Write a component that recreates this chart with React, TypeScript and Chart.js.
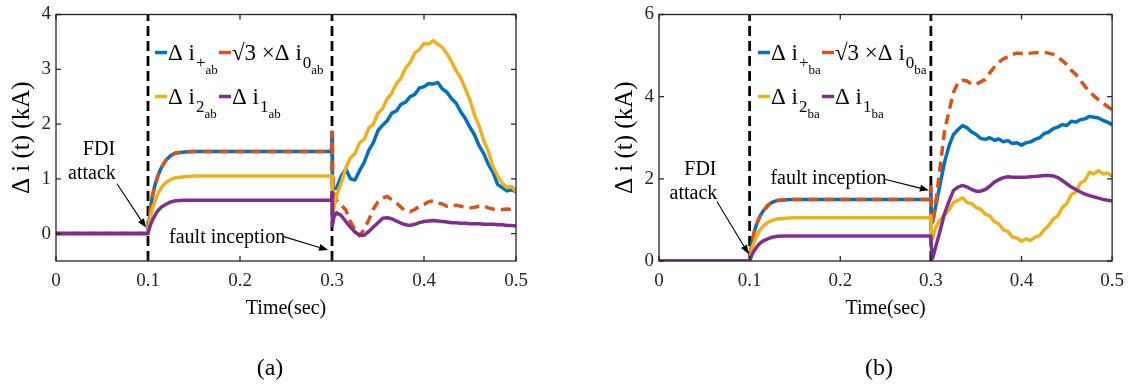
import React, { useEffect, useRef } from 'react';
import { Chart, registerables } from 'chart.js';

Chart.register(...registerables);

// ---------------- data ----------------
const time = [
  0, 0.1, 0.1025, 0.105, 0.1075, 0.11, 0.1125, 0.115, 0.12, 0.125,
  0.13, 0.14, 0.15, 0.175, 0.2, 0.225, 0.25, 0.275, 0.299, 0.2995,
  0.3, 0.3005, 0.302,
  0.305, 0.31, 0.315, 0.32, 0.325, 0.33, 0.335, 0.34, 0.345, 0.35,
  0.355, 0.36, 0.365, 0.37, 0.375, 0.38, 0.385, 0.39, 0.395, 0.4,
  0.405, 0.41, 0.415, 0.42, 0.425, 0.43, 0.435, 0.44, 0.445, 0.45,
  0.455, 0.46, 0.465, 0.47, 0.475, 0.48, 0.485, 0.49, 0.495, 0.5,
];

const xTicks = [0, 0.1, 0.2, 0.3, 0.4, 0.5];
const yTicksA = [0, 1, 2, 3, 4];
const yTicksB = [0, 2, 4, 6];
const eventTimes = [0.1, 0.3];

// panel (a): Δi_+ab, √3×Δi_0ab, Δi_2ab, Δi_1ab
const posA = [
  0, 0, 0.45, 0.7, 0.88, 1.02, 1.13, 1.22, 1.35, 1.43,
  1.47, 1.49, 1.5, 1.5, 1.5, 1.5, 1.5, 1.5, 1.5, 1.52,
  1.85, 0.8, 0.82,
  0.83, 1.05, 1.18, 1.0, 0.98, 1.15, 1.3, 1.52, 1.66, 1.88,
  1.98, 2.06, 2.2, 2.24, 2.36, 2.4, 2.5, 2.54, 2.66, 2.68,
  2.74, 2.73, 2.76, 2.64, 2.58, 2.46, 2.38, 2.22, 2.1, 1.94,
  1.8, 1.6, 1.46, 1.26, 1.12, 0.9, 0.84, 0.78, 0.8, 0.76,
];
const zeroA = [
  0, 0, 0.45, 0.7, 0.88, 1.02, 1.13, 1.22, 1.35, 1.43,
  1.47, 1.49, 1.5, 1.5, 1.5, 1.5, 1.5, 1.5, 1.5, 1.52,
  1.85, 1.2, 0.75,
  0.6, 0.52, 0.43, 0.22, 0.08, -0.04, 0.08, 0.25, 0.45, 0.58,
  0.65, 0.68, 0.62, 0.56, 0.48, 0.42, 0.4, 0.44, 0.5, 0.53,
  0.58, 0.6, 0.56, 0.54, 0.5, 0.5, 0.52, 0.5, 0.48, 0.47,
  0.48, 0.5, 0.5, 0.47, 0.45, 0.44, 0.44, 0.45, 0.44, 0.43,
];
const negA = [
  0, 0, 0.3, 0.46, 0.58, 0.7, 0.78, 0.85, 0.94, 0.99,
  1.02, 1.04, 1.05, 1.05, 1.05, 1.05, 1.05, 1.05, 1.05, 1.05,
  1.05, 0.3, 0.45,
  0.7, 0.92, 1.2, 1.38, 1.46, 1.66, 1.72, 1.93, 2.0, 2.2,
  2.28, 2.46, 2.56, 2.74, 2.84, 3.02, 3.12, 3.3, 3.36, 3.47,
  3.46, 3.52, 3.46, 3.4, 3.28, 3.14, 2.97, 2.84, 2.64, 2.44,
  2.16, 1.96, 1.7, 1.5, 1.22, 1.06, 0.92, 0.84, 0.86, 0.77,
];
const oneA = [
  0, 0, 0.15, 0.25, 0.33, 0.4, 0.45, 0.49, 0.54, 0.58,
  0.6, 0.61, 0.61, 0.61, 0.61, 0.61, 0.61, 0.61, 0.61, 0.62,
  0.75, 0.15, 0.3,
  0.38, 0.33, 0.22, 0.12, 0.03, -0.03, -0.03, 0.04, 0.12, 0.2,
  0.28, 0.29, 0.27, 0.23, 0.19, 0.16, 0.15, 0.17, 0.2, 0.22,
  0.23, 0.24, 0.23, 0.22, 0.21, 0.2, 0.2, 0.19, 0.19, 0.18,
  0.18, 0.18, 0.17, 0.17, 0.17, 0.16, 0.16, 0.15, 0.15, 0.14,
];

// panel (b): Δi_+ba, √3×Δi_0ba, Δi_2ba, Δi_1ba
const posB = [
  0, 0, 0.45, 0.7, 0.88, 1.02, 1.13, 1.22, 1.35, 1.43,
  1.47, 1.49, 1.5, 1.5, 1.5, 1.5, 1.5, 1.5, 1.5, 1.52,
  1.8, 1.0, 0.95,
  1.3, 1.85, 2.4, 2.8, 3.08, 3.2, 3.3, 3.24, 3.14, 3.08,
  2.98, 2.96, 3.0, 2.94, 2.97, 2.9, 2.93, 2.86, 2.88, 2.82,
  2.88, 2.9, 2.96, 3.0, 3.1, 3.14, 3.22, 3.26, 3.32, 3.3,
  3.4, 3.38, 3.44, 3.46, 3.52, 3.5, 3.48, 3.42, 3.38, 3.32,
];
const zeroB = [
  0, 0, 0.45, 0.7, 0.88, 1.02, 1.13, 1.22, 1.35, 1.43,
  1.47, 1.49, 1.5, 1.5, 1.5, 1.5, 1.5, 1.5, 1.5, 1.52,
  1.8, 1.1, 0.9,
  1.35, 2.25, 3.15, 3.65, 4.1, 4.35, 4.4, 4.38, 4.3, 4.3,
  4.36, 4.42, 4.58, 4.72, 4.84, 4.92, 4.97, 5.03, 5.06, 5.05,
  5.04, 5.06, 5.07, 5.08, 5.08, 5.06, 5.03, 4.96, 4.88, 4.78,
  4.64, 4.54, 4.4, 4.25, 4.12, 4.02, 3.92, 3.84, 3.76, 3.68,
];
const negB = [
  0, 0, 0.3, 0.46, 0.58, 0.7, 0.78, 0.85, 0.94, 0.99,
  1.02, 1.04, 1.05, 1.05, 1.05, 1.05, 1.05, 1.05, 1.05, 1.05,
  1.1, 0.5, 0.55,
  0.8, 1.0, 1.12, 1.24, 1.42, 1.48, 1.54, 1.42, 1.4, 1.3,
  1.26, 1.14, 1.1, 0.96, 0.9, 0.76, 0.72, 0.58, 0.56, 0.48,
  0.54, 0.5, 0.58, 0.62, 0.76, 0.86, 1.02, 1.1, 1.3, 1.4,
  1.62, 1.68, 1.9, 1.96, 2.16, 2.12, 2.2, 2.12, 2.14, 2.06,
];
const oneB = [
  0, 0, 0.15, 0.25, 0.33, 0.4, 0.45, 0.49, 0.54, 0.58,
  0.6, 0.61, 0.61, 0.61, 0.61, 0.61, 0.61, 0.61, 0.61, 0.61,
  0.6, 0.35, 0.07,
  0.32, 0.72, 1.15, 1.45, 1.72, 1.8, 1.84, 1.8, 1.74, 1.7,
  1.7, 1.74, 1.82, 1.92, 1.98, 2.03, 2.05, 2.04, 2.04, 2.04,
  2.04, 2.05, 2.06, 2.07, 2.08, 2.08, 2.07, 2.03, 1.96, 1.88,
  1.8, 1.74, 1.68, 1.63, 1.59, 1.56, 1.53, 1.5, 1.48, 1.46,
];

// ---------------- styling / layout ----------------
const FONT = '"Liberation Serif", "Times New Roman", serif';
const AXIS = '#262626';
const COLORS = { pos: '#0072BD', zero: '#D95319', neg: '#EDB120', one: '#7E2F8E' };

type Pt = [number, number];
type Panel = {
  series: { pos: number[]; zero: number[]; neg: number[]; one: number[] };
  yMin: number; yMax: number; yTicks: number[]; sub: string; letter: string;
  canvasLeft: number; canvasWidth: number; axisWidth: number; padRight: number;
  fdiText: Pt; attackText: Pt; fdiFrom: Pt; fdiTo: Pt;
  faultText: Pt; faultFrom: Pt; faultTo: Pt;
  letterOffset: number;
};

const panelA: Panel = {
  series: { pos: posA, zero: zeroA, neg: negA, one: oneA },
  yMin: -0.5, yMax: 4, yTicks: yTicksA, sub: 'ab', letter: '(a)',
  canvasLeft: 0, canvasWidth: 560, axisWidth: 56, padRight: 44,
  fdiText: [0.0467, 1.54], attackText: [0.0391, 1.09], fdiFrom: [0.0663, 0.91], fdiTo: [0.0978, 0.11],
  faultText: [0.186, -0.07], faultFrom: [0.2467, -0.05], faultTo: [0.2957, -0.3],
  letterOffset: 214,
};
const panelB: Panel = {
  series: { pos: posB, zero: zeroB, neg: negB, one: oneB },
  yMin: 0, yMax: 6, yTicks: yTicksB, sub: 'ba', letter: '(b)',
  canvasLeft: 590, canvasWidth: 545, axisWidth: 69, padRight: 16,
  fdiText: [0.0457, 2.23], attackText: [0.038, 1.63], fdiFrom: [0.0641, 1.44], fdiTo: [0.0989, 0.17],
  faultText: [0.187, 1.99], faultFrom: [0.249, 1.99], faultTo: [0.2978, 1.72],
  letterOffset: 220,
};

function arrow(ctx: CanvasRenderingContext2D, x1: number, y1: number, x2: number, y2: number) {
  const ang = Math.atan2(y2 - y1, x2 - x1);
  const hl = 9, hw = 3.5;
  const bx = x2 - hl * Math.cos(ang), by = y2 - hl * Math.sin(ang);
  ctx.strokeStyle = '#000';
  ctx.fillStyle = '#000';
  ctx.lineWidth = 1.1;
  ctx.setLineDash([]);
  ctx.beginPath();
  ctx.moveTo(x1, y1);
  ctx.lineTo(bx, by);
  ctx.stroke();
  ctx.beginPath();
  ctx.moveTo(x2, y2);
  ctx.lineTo(bx - hw * Math.sin(ang), by + hw * Math.cos(ang));
  ctx.lineTo(bx + hw * Math.sin(ang), by - hw * Math.cos(ang));
  ctx.closePath();
  ctx.fill();
}

function legendEntry(ctx: CanvasRenderingContext2D, x: number, y: number, color: string, main: string, sub: string, subsub: string) {
  ctx.setLineDash([]);
  ctx.strokeStyle = color;
  ctx.lineWidth = 3.5;
  ctx.beginPath();
  ctx.moveTo(x, y);
  ctx.lineTo(x + 12, y);
  ctx.stroke();
  ctx.fillStyle = '#000';
  ctx.textAlign = 'left';
  ctx.textBaseline = 'alphabetic';
  let cx = x + 13;
  ctx.font = `23px ${FONT}`;
  ctx.fillText(main, cx, y + 7.5);
  cx += ctx.measureText(main).width + 1;
  ctx.font = `17px ${FONT}`;
  ctx.fillText(sub, cx, y + 15);
  cx += ctx.measureText(sub).width;
  ctx.font = `13px ${FONT}`;
  ctx.fillText(subsub, cx, y + 21);
}

function makeDecor(p: Panel) {
  return {
    id: 'decor' + p.letter,
    afterDraw(chart: any) {
      const { ctx, chartArea: a, scales } = chart;
      const x = scales.x, y = scales.y;
      ctx.save();
      // axes box + inward ticks
      ctx.strokeStyle = AXIS;
      ctx.lineWidth = 1.3;
      ctx.setLineDash([]);
      ctx.strokeRect(a.left, a.top, a.right - a.left, a.bottom - a.top);
      ctx.beginPath();
      for (const v of xTicks) {
        const px = x.getPixelForValue(v);
        ctx.moveTo(px, a.bottom); ctx.lineTo(px, a.bottom - 5);
        ctx.moveTo(px, a.top); ctx.lineTo(px, a.top + 5);
      }
      for (const v of p.yTicks) {
        const py = y.getPixelForValue(v);
        ctx.moveTo(a.left, py); ctx.lineTo(a.left + 5, py);
        ctx.moveTo(a.right, py); ctx.lineTo(a.right - 5, py);
      }
      ctx.stroke();

      // axis titles
      ctx.fillStyle = '#000';
      ctx.textAlign = 'center';
      ctx.textBaseline = 'middle';
      ctx.font = `20px ${FONT}`;
      ctx.fillText('Time(sec)', (a.left + a.right) / 2, 309);
      ctx.save();
      ctx.translate(a.left - 34, (a.top + a.bottom) / 2);
      ctx.rotate(-Math.PI / 2);
      ctx.font = `25px ${FONT}`;
      ctx.fillText('Δ i (t) (kA)', 0, 0);
      ctx.restore();
      ctx.font = `24px ${FONT}`;
      ctx.fillText(p.letter, a.left + p.letterOffset, 369);

      // annotations
      const P = (pt: Pt) => [x.getPixelForValue(pt[0]), y.getPixelForValue(pt[1])];
      ctx.font = `20px ${FONT}`;
      ctx.fillStyle = '#000';
      let q = P(p.fdiText); ctx.fillText('FDI', q[0], q[1]);
      q = P(p.attackText); ctx.fillText('attack', q[0], q[1]);
      q = P(p.faultText); ctx.fillText('fault inception', q[0], q[1]);
      let f = P(p.fdiFrom), t = P(p.fdiTo);
      arrow(ctx, f[0], f[1], t[0], t[1]);
      f = P(p.faultFrom); t = P(p.faultTo);
      arrow(ctx, f[0], f[1], t[0], t[1]);

      // legend
      const lx1 = a.left + 99, lx2 = a.left + 163;
      const ly1 = a.top + 38, ly2 = a.top + 82;
      legendEntry(ctx, lx1, ly1, COLORS.pos, 'Δ i', '+', p.sub);
      legendEntry(ctx, lx2, ly1, COLORS.zero, '√3 ×Δ i', '0', p.sub);
      legendEntry(ctx, lx1, ly2, COLORS.neg, 'Δ i', '2', p.sub);
      legendEntry(ctx, lx2, ly2, COLORS.one, 'Δ i', '1', p.sub);
      ctx.restore();
    },
  };
}

function buildConfig(p: Panel): any {
  const mk = (vals: number[]) => time.map((t, i) => ({ x: t, y: vals[i] }));
  const line = (vals: number[], color: string, order: number, dash: number[] = []) => ({
    data: mk(vals),
    borderColor: color,
    borderWidth: 3.5,
    borderDash: dash,
    borderJoinStyle: 'round',
    pointRadius: 0,
    tension: 0,
    order,
  });
  const datasets: any[] = [
    line(p.series.pos, COLORS.pos, 4),
    line(p.series.zero, COLORS.zero, 3, [10, 6]),
    line(p.series.neg, COLORS.neg, 2),
    line(p.series.one, COLORS.one, 1),
    ...eventTimes.map((t) => ({
      data: [{ x: t, y: p.yMin }, { x: t, y: p.yMax }],
      borderColor: '#000',
      borderWidth: 2.8,
      borderDash: [10, 5],
      pointRadius: 0,
      order: 5,
    })),
  ];
  const tickFont = { family: FONT, size: 19, lineHeight: 1 };
  return {
    type: 'line',
    data: { datasets },
    options: {
      animation: false,
      responsive: false,
      maintainAspectRatio: false,
      devicePixelRatio: 1,
      layout: { padding: { left: 0, right: p.padRight, top: 10, bottom: 0 } },
      plugins: { legend: { display: false }, tooltip: { enabled: false } },
      scales: {
        x: {
          type: 'linear',
          min: 0,
          max: 0.5,
          grid: { display: false, drawTicks: false },
          border: { display: false },
          ticks: { padding: 11, font: tickFont, color: AXIS, maxRotation: 0, callback: (v: number) => String(v) },
          afterBuildTicks: (s: any) => { s.ticks = xTicks.map((v) => ({ value: v })); },
          afterFit: (s: any) => { s.height = 129; },
        },
        y: {
          type: 'linear',
          min: p.yMin,
          max: p.yMax,
          grid: { display: false, drawTicks: false },
          border: { display: false },
          ticks: { padding: 5, font: tickFont, color: AXIS, callback: (v: number) => String(v) },
          afterBuildTicks: (s: any) => { s.ticks = p.yTicks.map((v) => ({ value: v })); },
          afterFit: (s: any) => { s.width = p.axisWidth; },
        },
      },
    },
    plugins: [makeDecor(p)],
  };
}

function PanelChart({ panel }: { panel: Panel }) {
  const ref = useRef<HTMLCanvasElement>(null);
  useEffect(() => {
    const chart = new Chart(ref.current as HTMLCanvasElement, buildConfig(panel));
    return () => chart.destroy();
  }, [panel]);
  return (
    <canvas
      ref={ref}
      width={panel.canvasWidth}
      height={390}
      style={{ position: 'absolute', left: panel.canvasLeft, top: 0, width: panel.canvasWidth, height: 390 }}
    />
  );
}

export default function App() {
  return (
    <div style={{ position: 'absolute', left: 0, top: 0, width: 1135, height: 390, background: '#fff', overflow: 'hidden' }}>
      <PanelChart panel={panelA} />
      <PanelChart panel={panelB} />
    </div>
  );
}
